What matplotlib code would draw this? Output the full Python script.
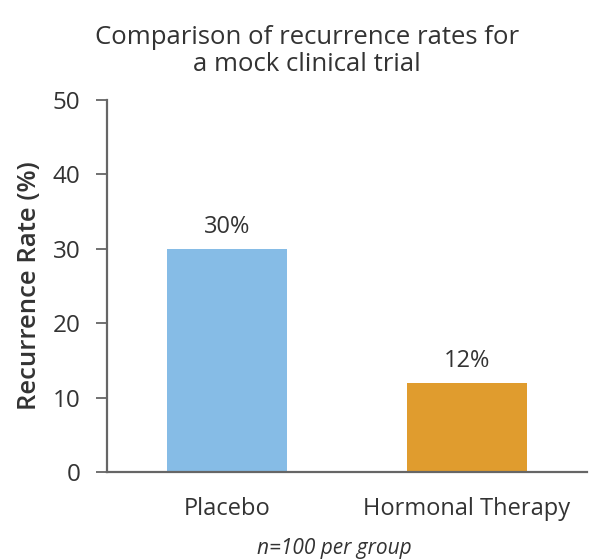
import matplotlib
matplotlib.use('Agg')
from matplotlib import pyplot as plt

# data
groups = ['Placebo', 'Hormonal Therapy']
rates = [30, 12]
bar_labels = ['30%', '12%']
yticks = [0, 10, 20, 30, 40, 50]
colors = ['#86bce6', '#e09c2e']

plt.rcParams['font.family'] = ['Open Sans', 'DejaVu Sans']
txt = '#333333'

fig = plt.figure(figsize=(5.89, 5.59), dpi=100)
ax = fig.add_axes([107/589, 1 - 472/559, (587-107)/589, (472-100)/559])

x = list(range(len(groups)))
bars = ax.bar(x, rates, width=0.5, color=colors, zorder=2)
for b, lab in zip(bars, bar_labels):
    ax.text(b.get_x() + b.get_width()/2, b.get_height() + 1.3, lab,
            ha='center', va='bottom', fontsize=17, color=txt, fontweight=500)

ax.set_xlim(-0.5, 1.5)
ax.set_ylim(0, 50)
ax.set_yticks(yticks)
ax.set_xticks(x)
ax.set_xticklabels(groups, fontsize=17, color=txt, fontweight=500)
ax.tick_params(axis='x', length=0, pad=18)
ax.tick_params(axis='y', length=8, width=1.3, color='#666666', labelsize=17.5,
               labelcolor=txt, pad=11)
for s in ['top', 'right']:
    ax.spines[s].set_visible(False)
for s in ['left', 'bottom']:
    ax.spines[s].set_color('#666666')
    ax.spines[s].set_linewidth(1.6)

ax.set_ylabel('Recurrence Rate (%)', fontsize=18.5, fontweight='semibold',
              color=txt, labelpad=8)

fig.text(0.521, 0.955, 'Comparison of recurrence rates for\na mock clinical trial',
         ha='center', va='top', fontsize=18.5, color=txt, linespacing=1.1,
         fontweight=500)
fig.text(0.567, 0.0, 'n=100 per group', ha='center', va='bottom',
         fontsize=15, style='italic', color=txt)

fig.savefig('out.png', dpi=100)
